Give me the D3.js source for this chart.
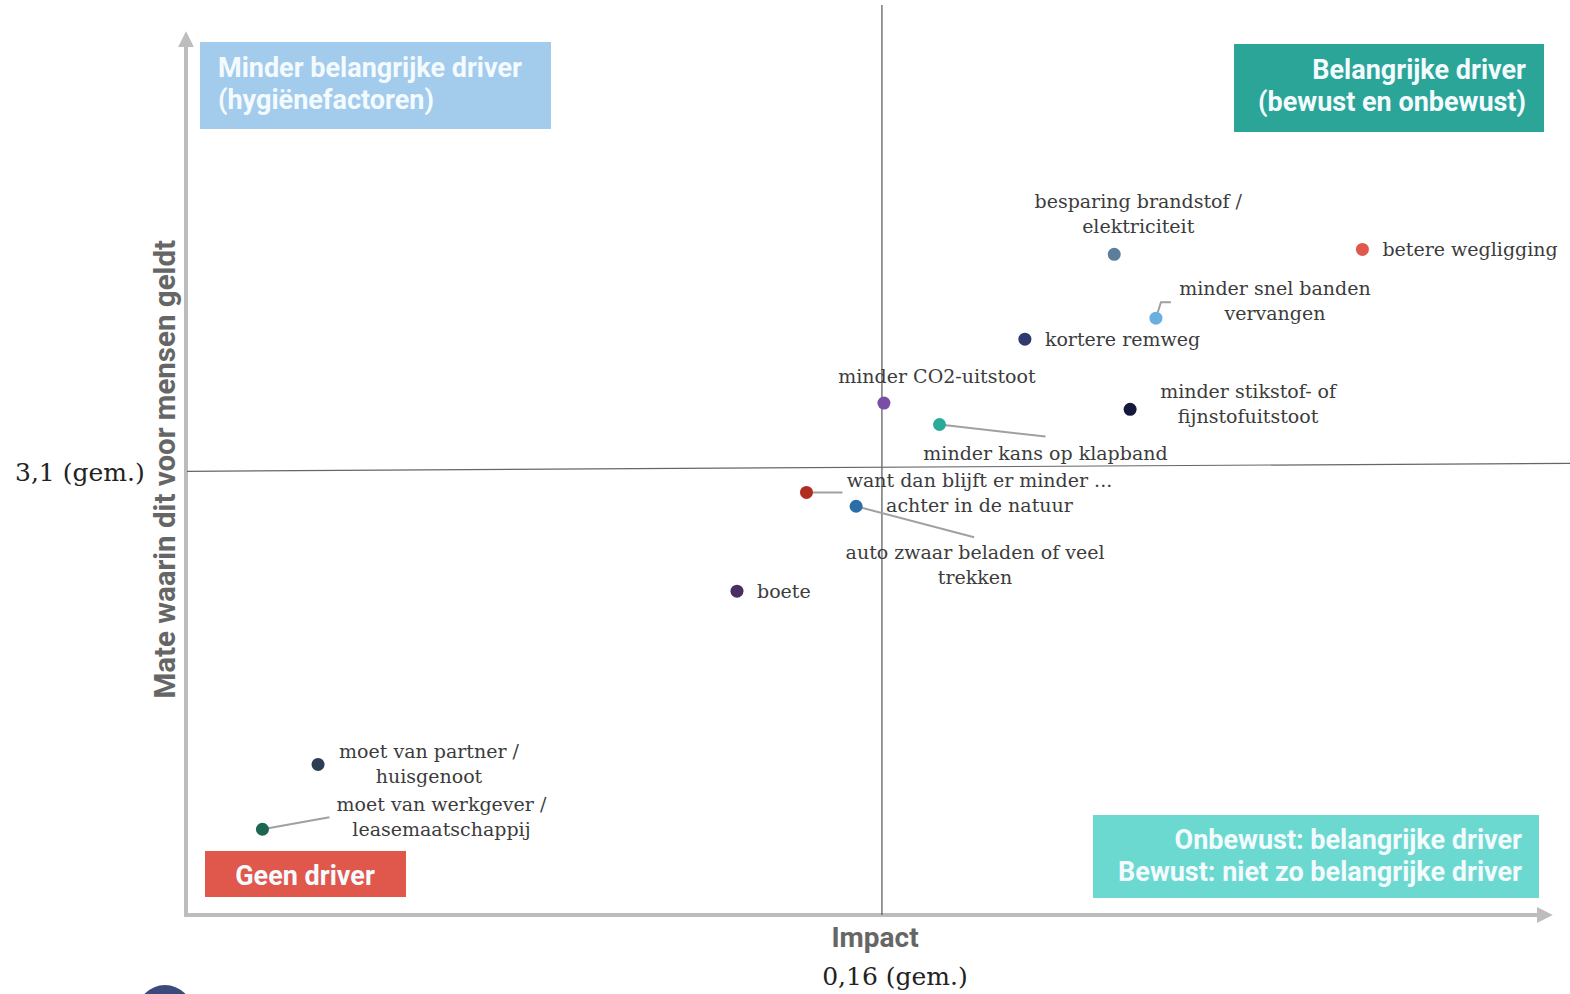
<!DOCTYPE html>
<html>
<head>
<meta charset="utf-8">
<script src="https://cdn.jsdelivr.net/npm/d3@7"></script>
<style>
  html, body { margin: 0; padding: 0; background: #fff; overflow: hidden; }
  svg { display: block; }
</style>
</head>
<body>
<svg id="chart" width="1570" height="994"></svg>
<script>
// ---- Data ----
const labels = [
  "besparing brandstof /\nelektriciteit",
  "betere wegligging",
  "minder snel banden\nvervangen",
  "kortere remweg",
  "minder CO2-uitstoot",
  "minder stikstof- of\nfijnstofuitstoot",
  "minder kans op klapband",
  "want dan blijft er minder ...\nachter in de natuur",
  "auto zwaar beladen of veel\ntrekken",
  "boete",
  "moet van partner /\nhuisgenoot",
  "moet van werkgever /\nleasemaatschappij"
];
const impact = [0.277, 0.402, 0.298, 0.232, 0.161, 0.285, 0.189, 0.122, 0.147, 0.087, -0.124, -0.152];
const mate   = [3.579, 3.590, 3.436, 3.389, 3.246, 3.232, 3.198, 3.046, 3.015, 2.825, 2.437, 2.292];
const colors = ["#5b7f9b", "#e0574c", "#6aafe0", "#2f3a70", "#7a4ea8", "#15183a", "#2aab9a", "#b02e20", "#2a6ea8", "#4a2e62", "#2c3d55", "#1d6651"];
const meanImpact = 0.16;
const meanMate = 3.1;
const meanImpactLabel = "0,16 (gem.)";
const meanMateLabel = "3,1 (gem.)";
const xTitle = "Impact";
const yTitle = "Mate waarin dit voor mensen geldt";
const quadrantTexts = [
  "Minder belangrijke driver\n(hygiënefactoren)",
  "Belangrijke driver\n(bewust en onbewust)",
  "Onbewust: belangrijke driver\nBewust: niet zo belangrijke driver",
  "Geen driver"
];

// ---- Layout (positions/styles kept separate from data) ----
// label layout: [anchor, dx, dy(first baseline), leader points relative to dot or null]
const labelLayout = [
  ["middle", 24, -46, null],
  ["start", 20, 7, null],
  ["middle", 119, -23, [[0,0],[5,-16],[15,-16]]],
  ["start", 20, 7, null],
  ["middle", 53, -20, null],
  ["middle", 118, -11, null],
  ["middle", 106, 35, [[0,0],[106,12]]],
  ["middle", 173, -5, [[0,0],[36,0]]],
  ["middle", 119, 53, [[0,0],[118,31]]],
  ["start", 20, 7, null],
  ["middle", 111, -6, null],
  ["middle", 179, -18, [[0,0],[67,-12]]]
];
const quadBoxes = [
  {x: 200, y: 42, w: 351, h: 87, fill: "#a3cbec", anchor: "start", tx: 218, ty: 77},
  {x: 1234, y: 44, w: 310, h: 88, fill: "#2aa597", anchor: "end", tx: 1526, ty: 79},
  {x: 1093, y: 815, w: 446, h: 83, fill: "#6cd9d0", anchor: "end", tx: 1522, ty: 849},
  {x: 205, y: 851, w: 201, h: 46, fill: "#e0574c", anchor: "middle", tx: 305, ty: 885}
];

const svg = d3.select("#chart");
const x = d3.scaleLinear().domain([-0.19, 0.5]).range([187, 1557]);
const y = d3.scaleLinear().domain([2.1, 4.07]).range([915, 35]);

const axisColor = "#bdbdbd";
// Axes with arrows
const defs = svg.append("defs");
defs.append("marker").attr("id", "arrow").attr("viewBox", "0 0 10 10")
  .attr("refX", 2).attr("refY", 5).attr("markerWidth", 4).attr("markerHeight", 4)
  .attr("orient", "auto")
  .append("path").attr("d", "M0,0 L10,5 L0,10 z").attr("fill", axisColor);

svg.append("line").attr("x1", 186).attr("y1", 916).attr("x2", 186).attr("y2", 44)
  .attr("stroke", axisColor).attr("stroke-width", 4).attr("marker-end", "url(#arrow)");
svg.append("line").attr("x1", 184).attr("y1", 915).attr("x2", 1540).attr("y2", 915)
  .attr("stroke", axisColor).attr("stroke-width", 4).attr("marker-end", "url(#arrow)");

// Quadrant boxes
quadBoxes.forEach((b, i) => {
  svg.append("rect").attr("x", b.x).attr("y", b.y).attr("width", b.w).attr("height", b.h).attr("fill", b.fill);
  const t = svg.append("text").attr("text-anchor", b.anchor)
    .attr("font-family", "Roboto, sans-serif").attr("font-weight", "bold")
    .attr("font-size", 27).attr("fill", "#f4fbff");
  quadrantTexts[i].split("\n").forEach((line, j) => {
    t.append("tspan").attr("x", b.tx).attr("y", b.ty + j * 32).text(line);
  });
});

// Mean lines
svg.append("line").attr("x1", x(meanImpact)).attr("x2", x(meanImpact)).attr("y1", 5).attr("y2", 915)
  .attr("stroke", "#555").attr("stroke-width", 1.2);
svg.append("line").attr("x1", 187).attr("x2", 1570).attr("y1", y(meanMate) + 3).attr("y2", y(meanMate) - 5)
  .attr("stroke", "#666").attr("stroke-width", 1.2);

// Leaders
const pts = labels.map((l, i) => ({label: l, cx: x(impact[i]), cy: y(mate[i]), color: colors[i], lay: labelLayout[i]}));
pts.forEach(p => {
  if (p.lay[3]) {
    svg.append("path")
      .attr("d", d3.line()(p.lay[3].map(q => [p.cx + q[0], p.cy + q[1]])))
      .attr("fill", "none").attr("stroke", "#a0a0a0").attr("stroke-width", 2);
  }
});

// Dots
svg.selectAll("circle.dot").data(pts).join("circle").attr("class", "dot")
  .attr("cx", d => d.cx).attr("cy", d => d.cy).attr("r", 6.5).attr("fill", d => d.color);

// Labels
pts.forEach(p => {
  const t = svg.append("text").attr("text-anchor", p.lay[0])
    .attr("font-family", "'DejaVu Serif', serif").attr("font-size", 19).attr("fill", "#3c3c3c");
  p.label.split("\n").forEach((line, j) => {
    t.append("tspan").attr("x", p.cx + p.lay[1]).attr("y", p.cy + p.lay[2] + j * 25).text(line);
  });
});

// Axis titles
svg.append("text").attr("transform", `translate(175,${y(meanMate) + 1}) rotate(-90)`)
  .attr("text-anchor", "middle").attr("font-family", "Roboto, sans-serif").attr("font-weight", "bold")
  .attr("font-size", 29.5).attr("fill", "#666").text(yTitle);
svg.append("text").attr("x", 875).attr("y", 947).attr("text-anchor", "middle")
  .attr("font-family", "Roboto, sans-serif").attr("font-weight", "bold")
  .attr("font-size", 28).attr("fill", "#666").text(xTitle);

// Mean labels
svg.append("text").attr("x", 15).attr("y", y(meanMate) + 13)
  .attr("font-family", "'DejaVu Serif', serif").attr("font-size", 25).attr("fill", "#222").text(meanMateLabel);
svg.append("text").attr("x", x(meanImpact) + 13).attr("y", 985).attr("text-anchor", "middle")
  .attr("font-family", "'DejaVu Serif', serif").attr("font-size", 25).attr("fill", "#222").text(meanImpactLabel);

// partial decorative circle at bottom
svg.append("circle").attr("cx", 165).attr("cy", 1013).attr("r", 28).attr("fill", "#3b4a7a");
</script>
</body>
</html>
